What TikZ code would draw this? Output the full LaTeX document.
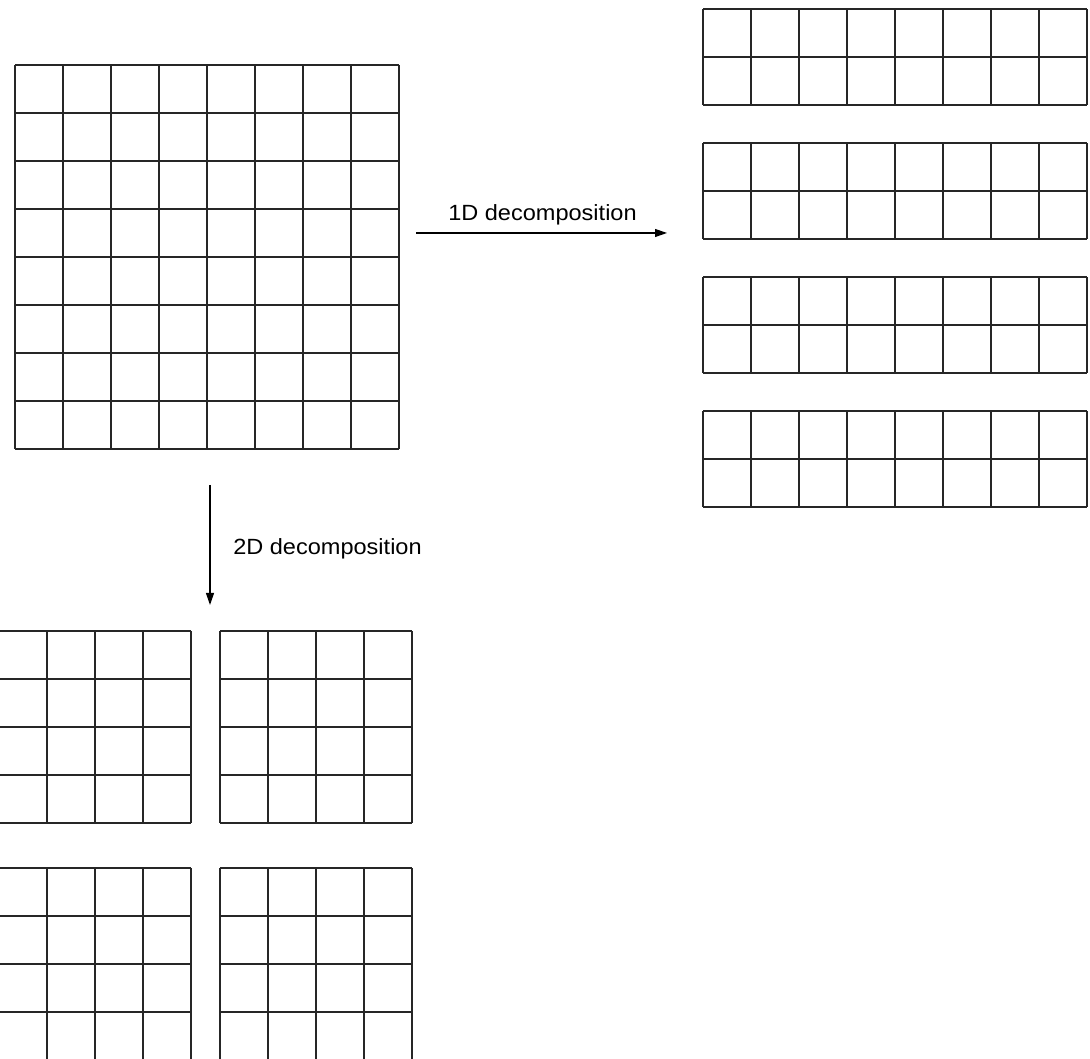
\documentclass[tikz,border=0pt]{standalone}
\usepackage{fontspec}
\newfontfamily\lblfont{Liberation Sans}[FakeStretch=1.07]
\usetikzlibrary{arrows.meta}

\begin{document}
\begin{tikzpicture}[x=1pt,y=1pt]
	\tikzset{meshlines/.style={line width=1.2pt,draw=black!85},
		decomp/.style={line width=1.1pt,-{Triangle[length=12pt,width=8pt]}},
		lbl/.style={anchor=base,inner sep=0pt,font=\lblfont\fontsize{22}{26}\selectfont}}
	\clip (0,0) rectangle (1090,1059);
	\useasboundingbox (0,0) rectangle (1090,1059);
	% full mesh
	\draw[meshlines,shift={(15,610)}] (0,0) grid[step=48] (384,384);
	% 1D: four strips
	\foreach \k in {0,...,3}
		\draw[meshlines,shift={(703,954-134*\k)}] (0,0) grid[step=48] (384,96);
	% 2D: four blocks
	\foreach \bx in {-1,220}
		\foreach \by in {236,-1}
			\draw[meshlines,shift={(\bx,\by)}] (0,0) grid[step=48] (192,192);
	\coordinate (from1d) at (416,826);
	\coordinate (to1d) at (667,826);
	\coordinate (from2d) at (210,574);
	\coordinate (to2d) at (210,454);
	\draw[decomp] (from1d) -- (to1d);
	\draw[decomp] (from2d) -- (to2d);
	\node[lbl] (lbl1d) at (542.5,838) {1D decomposition};
	\node[lbl] (lbl2d) at (327.5,504) {2D decomposition};
\end{tikzpicture}
\end{document}
